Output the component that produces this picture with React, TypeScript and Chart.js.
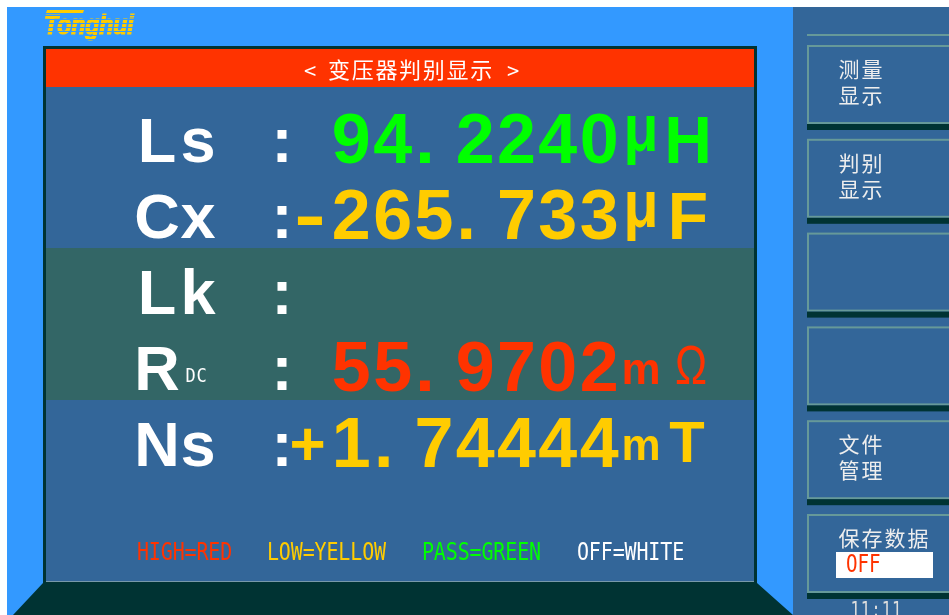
import React, { useEffect, useRef } from "react";
import { Chart, registerables } from "chart.js";

Chart.register(...registerables);

// ---------- data ----------
const brandText = "Tonghui";
const titleOpen = "<";
const titleText = "变压器判别显示";
const titleClose = ">";

const rowLabels = ["Ls", "Cx", "Lk", "R", "Ns"];
const rowSubLabels = ["", "", "", "DC", ""];
const rowSigns = ["", "-", "", "", "+"];
const rowNumbers = ["94.2240", "265.733", "", "55.9702", "1.74444"];
const rowPrefixes = ["μ", "μ", "", "m", "m"];
const rowUnits = ["H", "F", "", "Ω", "T"];
const rowColors = ["#00FF00", "#FFCC00", "#FFFFFF", "#FF3300", "#FFCC00"];
const rowBands = ["#336699", "#336699", "#336666", "#336666", "#336699"];

const legendItems = ["HIGH=RED", "LOW=YELLOW", "PASS=GREEN", "OFF=WHITE"];
const legendColors = ["#FF3300", "#FFCC00", "#00FF00", "#FFFFFF"];

const softKeys = [["测量", "显示"], ["判别", "显示"], [], [], ["文件", "管理"], ["保存数据"]];
const saveState = "OFF";
const clockText = "11:11";

// ---------- drawing helpers ----------
const W = 949;
const H = 615;
const SANS = "'Liberation Sans', Arial, sans-serif";
const MONO = "'DejaVu Sans Mono', monospace";
const CJK = "'Noto Sans CJK SC', sans-serif";

function txt(ctx: CanvasRenderingContext2D, s: string, x: number, y: number, font: string, color: string, align: CanvasTextAlign = "center", sx = 1, base: CanvasTextBaseline = "alphabetic", sy = 1, stroke = 0) {
  ctx.save();
  ctx.font = font;
  ctx.fillStyle = color;
  ctx.textAlign = align;
  ctx.textBaseline = base;
  ctx.translate(x, y);
  ctx.scale(sx, sy);
  ctx.fillText(s, 0, 0);
  if (stroke > 0) {
    ctx.strokeStyle = color;
    ctx.lineWidth = stroke;
    ctx.strokeText(s, 0, 0);
  }
  ctx.restore();
}

function mono(ctx: CanvasRenderingContext2D, s: string, x: number, y: number, pitch: number, size: number, color: string, sx: number) {
  Array.from(s).forEach((ch, i) => {
    txt(ctx, ch, x + i * pitch + pitch / 2, y, `${size}px ${MONO}`, color, "center", sx);
  });
}

const screenPlugin = {
  id: "screen",
  beforeDraw(chart: any) {
    const ctx: CanvasRenderingContext2D = chart.ctx;
    ctx.save();
    ctx.fillStyle = "#FFFFFF";
    ctx.fillRect(0, 0, W, H);
    ctx.fillStyle = "#3399FF";
    ctx.fillRect(7, 7, W - 7, H - 7);

    // brand logo
    txt(ctx, brandText, 44, 34, `italic bold 28px ${SANS}`, "#FFCC00", "left", 0.82, "alphabetic", 1, 1.2);
    ctx.fillStyle = "#FFCC00";
    ctx.beginPath();
    ctx.moveTo(47, 10); ctx.lineTo(84, 10); ctx.lineTo(83, 13); ctx.lineTo(46, 13); ctx.closePath();
    ctx.fill();
    ctx.fillStyle = "#3399FF";
    for (let y = 15; y < 42; y += 4) ctx.fillRect(40, y, 100, 1);

    // right soft-key panel
    ctx.fillStyle = "#336699";
    ctx.fillRect(793, 7, W - 793, H - 7);
    ctx.fillStyle = "#669999";
    ctx.fillRect(807, 34, W - 807, 2);
    softKeys.forEach((lines, i) => {
      const top = 45 + i * 93.8;
      ctx.strokeStyle = "#669999";
      ctx.lineWidth = 2;
      ctx.strokeRect(808, top + 1, 160, 77);
      ctx.fillStyle = "#003333";
      ctx.fillRect(807, top + 79, W - 807, 6);
      lines.forEach((line, li) => {
        Array.from(line).forEach((ch, ci) => {
          txt(ctx, ch, 849 + ci * 23, top + 24 + li * 26, `21px ${CJK}`, "#EEEEEE", "center", 1, "middle");
        });
      });
    });
    const lastTop = 45 + 5 * 93.8;
    ctx.fillStyle = "#FFFFFF";
    ctx.fillRect(836, lastTop + 38, 97, 26);
    mono(ctx, saveState, 846, lastTop + 58, 11.5, 24, "#FF3300", 0.8);
    mono(ctx, clockText, 850, 617, 10.4, 22, "#DDDDDD", 0.72);

    // main display frame
    ctx.fillStyle = "#003333";
    ctx.fillRect(43, 46, 714, 540);
    ctx.beginPath();
    ctx.moveTo(43, 583); ctx.lineTo(757, 583); ctx.lineTo(793, 615); ctx.lineTo(13, 615); ctx.closePath();
    ctx.fill();
    ctx.fillStyle = "#FF3300";
    ctx.fillRect(46, 49, 708, 38);
    ctx.fillStyle = "#336699";
    ctx.fillRect(46, 87, 708, 495);
    ctx.fillStyle = rowBands[2];
    ctx.fillRect(46, 248, 708, 152);
    ctx.fillStyle = "#7799AA";
    ctx.fillRect(46, 581, 708, 1);

    // title
    txt(ctx, titleOpen, 310, 71, `22px ${CJK}`, "#FFFFFF", "center", 1, "middle");
    Array.from(titleText).forEach((ch, i) => {
      txt(ctx, ch, 339 + i * 23.7, 70, `22px ${CJK}`, "#FFFFFF", "center", 1, "middle");
    });
    txt(ctx, titleClose, 513, 71, `22px ${CJK}`, "#FFFFFF", "center", 1, "middle");

    // measurement rows
    rowLabels.forEach((label, i) => {
      const b = 163 + i * 76;
      Array.from(label).forEach((ch, ci) => {
        txt(ctx, ch, 157 + ci * 41, b - 1, `bold 63px ${SANS}`, "#FFFFFF", "center");
      });
      if (rowSubLabels[i]) mono(ctx, rowSubLabels[i], 185, b - 9, 11, 20, "#FFFFFF", 0.85);
      txt(ctx, ":", 282, b - 1, `bold 63px ${SANS}`, "#FFFFFF", "center");
      const color = rowColors[i];
      const cell = (k: number) => 310 + 41.3 * k;
      if (rowSigns[i] === "-") txt(ctx, "-", 310, b, `bold 70px ${SANS}`, color, "center", 1.35);
      if (rowSigns[i] === "+") txt(ctx, "+", 307.5, b - 2, `bold 62px ${SANS}`, color, "center");
      Array.from(rowNumbers[i]).forEach((ch, ci) => {
        const k = ci + 1;
        const x = ch === "." ? cell(k) - 9 : cell(k);
        txt(ctx, ch, x, b, `bold 70px ${SANS}`, color, "center");
      });
      if (!rowUnits[i]) return;
      const p = rowPrefixes[i];
      if (p === "μ") txt(ctx, p, 641, b - 12, `bold 52px ${SANS}`, color, "center", 1.1, "alphabetic", 1.3);
      else txt(ctx, p, 641, b - 7, `bold 44px ${SANS}`, color, "center");
      const u = rowUnits[i];
      if (u === "Ω") txt(ctx, u, 691, b - 7, `55px ${SANS}`, color, "center", 0.78);
      else if (u === "T") txt(ctx, u, 687, b - 5, `bold 58px ${SANS}`, color, "center");
      else txt(ctx, u, 688, b, `bold 66px ${SANS}`, color, "center");
    });

    // legend of judgement colours
    const legendX = [138, 268, 423, 578];
    legendItems.forEach((item, i) => {
      mono(ctx, item, legendX[i] - 1, 560, 11.9, 25, legendColors[i], 0.8);
    });
    ctx.restore();
  },
};

export default function App() {
  const ref = useRef<HTMLCanvasElement>(null);
  useEffect(() => {
    const chart = new Chart(ref.current as HTMLCanvasElement, {
      type: "bar",
      data: { labels: rowLabels, datasets: [] },
      options: {
        responsive: false,
        animation: false,
        devicePixelRatio: 1,
        layout: { padding: 0 },
        plugins: { legend: { display: false }, tooltip: { enabled: false } },
        scales: { x: { display: false }, y: { display: false } },
      },
      plugins: [screenPlugin],
    } as any);
    return () => chart.destroy();
  }, []);
  return (
    <canvas
      ref={ref}
      width={W}
      height={H}
      style={{ position: "fixed", left: 0, top: 0, width: W, height: H, display: "block" }}
    />
  );
}
